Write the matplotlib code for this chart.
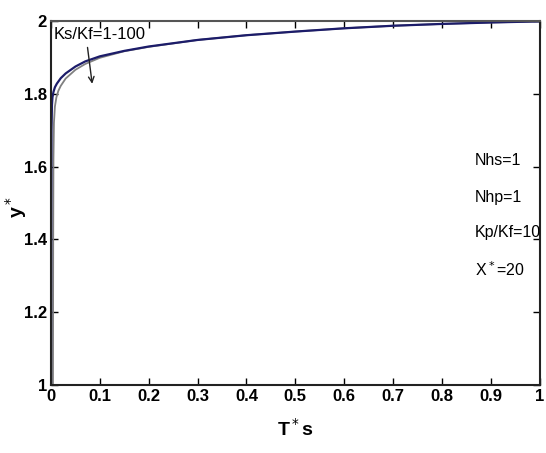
import numpy as np
import matplotlib.pyplot as plt

# Ks/Kf = 1 (dark blue) and Ks/Kf = 100 (gray) response curves
t_blue = [0, 0.0005, 0.001, 0.002, 0.003, 0.005, 0.008, 0.012, 0.02, 0.03, 0.05, 0.07,
          0.1, 0.15, 0.2, 0.3, 0.4, 0.5, 0.6, 0.7, 0.8, 0.9, 1.0]
y_blue = [1.0, 1.5, 1.7, 1.77, 1.79, 1.805, 1.818, 1.828, 1.843, 1.856, 1.875, 1.889,
          1.903, 1.918, 1.93, 1.948, 1.961, 1.971, 1.98, 1.987, 1.992, 1.996, 1.999]

t_gray = [0.004, 0.0045, 0.005, 0.006, 0.008, 0.011, 0.015, 0.02, 0.03, 0.05, 0.07,
          0.1, 0.15, 0.2, 0.3, 0.4, 0.5, 0.6, 0.7, 0.8, 0.9, 1.0]
y_gray = [1.0, 1.4, 1.62, 1.72, 1.765, 1.79, 1.808, 1.822, 1.842, 1.866, 1.882,
          1.899, 1.917, 1.929, 1.948, 1.961, 1.971, 1.98, 1.987, 1.992, 1.996, 1.999]

xticks = [0, 0.1, 0.2, 0.3, 0.4, 0.5, 0.6, 0.7, 0.8, 0.9, 1]
xlabels = ['0', '0.1', '0.2', '0.3', '0.4', '0.5', '0.6', '0.7', '0.8', '0.9', '1']
yticks = [1, 1.2, 1.4, 1.6, 1.8, 2]
ylabels = ['1', '1.2', '1.4', '1.6', '1.8', '2']

params = ['Nhs=1', 'Nhp=1', 'Kp/Kf=10', 'X$^*$=20']
param_y = [1.618, 1.514, 1.42, 1.316]

plt.rcParams['font.family'] = ['Liberation Sans', 'DejaVu Sans']

fig = plt.figure(figsize=(5.46, 4.53), dpi=100)
ax = fig.add_axes([0.0934, 0.150, 0.895, 0.8036])

ax.plot(t_gray, y_gray, color='#808080', lw=1.3)
ax.plot(t_blue, y_blue, color='#1c1c6a', lw=1.6)

ax.set_xlim(0, 1)
ax.set_ylim(1, 2)
ax.set_xticks(xticks)
ax.set_xticklabels(xlabels)
ax.set_yticks(yticks)
ax.set_yticklabels(ylabels)
ax.tick_params(direction='in', top=True, right=True, length=5, width=1,
               labelsize=12, pad=3)
for lab in ax.get_xticklabels() + ax.get_yticklabels():
    lab.set_fontweight('bold')
for s in ax.spines.values():
    s.set_linewidth(1.5)
    s.set_color('#222222')
ax.spines['top'].set_color('#555555')

ax.set_xlabel('T$^*$s', fontsize=14, fontweight='bold', labelpad=10)
ax.set_ylabel('y$^*$', fontsize=14, fontweight='bold')
ax.yaxis.set_label_coords(-0.045, 0.49)

ax.text(0.005, 1.963, 'Ks/Kf=1-100', fontsize=12, va='center', ha='left')
ax.annotate('', xy=(0.085, 1.82), xytext=(0.074, 1.935),
            arrowprops=dict(arrowstyle='->', color='#222222', lw=1))

for txt, yy in zip(params, param_y):
    ax.text(0.868, yy, txt, fontsize=11.5, va='center', ha='left')

fig.savefig('out.png', dpi=100)
